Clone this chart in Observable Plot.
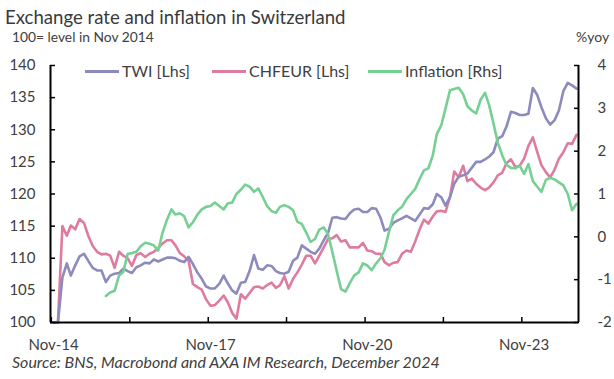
<!DOCTYPE html>
<html><head><meta charset="utf-8">
<script src="https://cdn.jsdelivr.net/npm/d3@7"></script>
<script src="https://cdn.jsdelivr.net/npm/@observablehq/plot@0.6"></script>
<style>
body{margin:0;background:#fff;}
#wrap{position:relative;width:614px;height:379px;font-family:Lato,sans-serif;color:#404040;overflow:hidden;background:#fff}
.t{position:absolute;white-space:nowrap;line-height:1}
.sw{position:absolute;height:3px}
#chart{position:absolute;left:0;top:0}
</style></head><body><div id="wrap"><div id="chart"></div></div>
<script>
// Monthly data, Nov 2014 - Nov 2024
const startMonth = [2014, 10]; // Nov 2014 (UTC month index)
const twi = [100,100,107,109.2,107.3,108.9,110.3,110.7,109.6,108.5,
108.1,108.1,106.3,107.3,107.6,107.7,108.4,108.0,107.7,108.6,
108.9,109.3,109.2,109.8,109.5,109.8,110.1,110.1,110,109.6,
109.4,110.2,109.1,107.8,106.8,105.6,105.3,105.3,106,107.3,
106.1,105,104.5,106.2,106.3,108,110.5,108.4,108.2,108.9,
108.8,108,107.7,107.6,107.9,109.6,110.1,112,111.5,111,
110.7,111.5,112.8,114,116.3,116.4,116.2,116.1,117,117.6,
117.7,117.2,117.2,117.8,117.7,116.3,114.3,114.6,115.5,115.9,
116.2,116.6,116.2,115.8,116.8,117.8,117.7,118.4,120,119.5,
118.2,119.5,121.6,122.7,122.9,123.2,124.1,125,125,125.4,
125.8,126.5,128.6,129,130.5,132.8,132.6,132.3,132.3,132.5,
136.5,135.4,133.5,131.8,130.8,131.5,133,136,137.3,136.9,136.4];
const chfeur = [100,100,115,113.5,115.1,114.5,116.1,115.5,113.5,111.9,
111,110.6,110.7,110.4,108.5,111,110.4,110,108.8,110.5,
110.8,110.2,110.7,111,111.6,112.3,112.8,112.8,112,110.8,
110.3,109.6,106,105.5,105.1,103.6,102.6,102.7,103.4,104.2,
103.2,101.5,100.6,104.4,103.7,104.6,105.5,105.6,105.3,105.8,
106.2,105.4,105.8,107.2,105.3,106.8,107.8,109,110.4,110.4,
109.2,110.4,111.7,113,113.1,113.6,112.6,112.8,111.7,111.7,
111.7,112.4,111.2,111.1,110.7,110.7,109.4,108.9,109.3,109.4,
110.7,111.2,111,112.6,114.5,116,115.4,116.5,117.3,117.4,
117.2,119.5,123.5,122.6,124.4,122,122.4,121.6,121,120.6,
121,121.8,122.9,123.3,124.8,125.4,124.2,124.4,125.5,127.5,
128.8,126.5,124.5,123.4,122.6,123.8,125.5,126.5,127.9,127.8,129.2];
// Inflation % yoy, from Nov 2015
const inflationStart = 12;
const inflation = [-1.38,-1.3,-1.26,-0.9,-0.82,-0.4,-0.38,-0.35,-0.22,-0.14,
-0.16,-0.2,-0.32,0.1,0.4,0.64,0.52,0.55,0.48,0.22,
0.34,0.52,0.64,0.7,0.72,0.8,0.72,0.64,0.78,0.8,
1.0,1.1,1.22,1.17,1.05,1.13,0.93,0.72,0.6,0.56,
0.7,0.74,0.7,0.62,0.35,0.3,0.1,-0.12,-0.05,0.17,
0.22,0.05,-0.35,-0.8,-1.22,-1.28,-1.08,-0.9,-0.83,-0.62,
-0.67,-0.78,-0.62,-0.5,-0.3,0.12,0.5,0.62,0.7,0.88,
1.0,1.12,1.35,1.55,1.6,1.9,2.4,2.6,3.0,3.42,
3.45,3.48,3.33,3.05,2.95,2.88,3.2,3.36,3.08,2.65,
2.2,1.9,1.68,1.61,1.6,1.66,1.47,1.7,1.3,1.17,
1.05,1.33,1.38,1.34,1.27,1.2,1.0,0.62,0.77];

const leftTicks = [100,105,110,115,120,125,130,135,140];
const rightTicks = [-2,-1,0,1,2,3,4];
const xLabels = ["Nov-14","Nov-17","Nov-20","Nov-23"];
const colors = {twi:"#8d8bbd", chfeur:"#de7b9f", infl:"#76cf93"};

const monthDate = i => new Date(Date.UTC(startMonth[0], startMonth[1] + i, 1));
const dTwi = twi.map((v,i)=>({date:monthDate(i), v}));
const dChf = chfeur.map((v,i)=>({date:monthDate(i), v}));
const dInf = inflation.map((v,i)=>({date:monthDate(i+inflationStart), v}));
// right axis (-2..4) mapped onto left scale (100..140)
const toLeft = r => 100 + (r + 2) * 40 / 6;

const x0 = new Date(Date.UTC(2014,9,10)), x1 = new Date(Date.UTC(2024,10,15));
const xTickDates = [[2014,9],[2016,3],[2017,9],[2019,3],[2020,9],[2022,3],[2023,9]].map(([y,m])=>new Date(Date.UTC(y,m,16)));
const xLabelDates = [[2014,10],[2017,10],[2020,10],[2023,10]].map(([y,m])=>new Date(Date.UTC(y,m,1)));

const plot = Plot.plot({
  width:614, height:379,
  marginLeft:50, marginRight:36, marginTop:65, marginBottom:57,
  style:{fontFamily:"Lato, sans-serif", fontSize:"15px", color:"#404040", background:"#fff"},
  x:{type:"utc", domain:[x0,x1]},
  y:{domain:[100,140]},
  marks:[
    Plot.line(dChf,{x:"date",y:"v",stroke:colors.chfeur,strokeWidth:2.6,strokeLinejoin:"round"}),
    Plot.line(dTwi,{x:"date",y:"v",stroke:colors.twi,strokeWidth:2.6,strokeLinejoin:"round"}),
    Plot.line(dInf,{x:"date",y:d=>toLeft(d.v),stroke:colors.infl,strokeWidth:2.6,strokeLinejoin:"round"}),
    Plot.ruleX([x0],{stroke:"#000",strokeWidth:2}),
    Plot.ruleX([x1],{stroke:"#000",strokeWidth:2}),
    Plot.ruleY([100],{stroke:"#000",strokeWidth:2}),
    Plot.axisY({anchor:"left",ticks:leftTicks,tickSize:-5,tickFormat:()=>"",label:null,stroke:"#000",strokeWidth:1.5}),
    Plot.axisY({anchor:"left",ticks:leftTicks,tickSize:0,tickPadding:15,label:null,fill:"#404040"}),
    Plot.axisY({anchor:"right",ticks:rightTicks.map(toLeft),tickSize:-5,tickFormat:()=>"",label:null,stroke:"#000",strokeWidth:1.5}),
    Plot.axisY({anchor:"right",ticks:rightTicks.map(toLeft),tickSize:0,tickPadding:19,label:null,fill:"#404040",
      tickFormat:v=>String(rightTicks[rightTicks.map(toLeft).findIndex(t=>Math.abs(t-v)<1e-6)])}),
    Plot.axisX({anchor:"bottom",ticks:xTickDates,tickSize:-5,tickFormat:()=>"",label:null,stroke:"#000",strokeWidth:1.5}),
    Plot.axisX({anchor:"bottom",ticks:xLabelDates,tickSize:0,tickPadding:17,label:null,fill:"#404040",
      tickFormat:d=>xLabels[xLabelDates.findIndex(t=>+t===+d)]})
  ]
});
document.getElementById("chart").appendChild(plot);

const wrap = document.getElementById("wrap");
function addText(txt, left, top, size, extra){
  const el = document.createElement("div");
  el.className = "t"; el.textContent = txt;
  el.style.left = left+"px"; el.style.top = top+"px"; el.style.fontSize = size+"px";
  if (extra) Object.assign(el.style, extra);
  wrap.appendChild(el); return el;
}
addText("Exchange rate and inflation in Switzerland", 5, 8, 18.6, {color:"#3a3a3a"});
addText("100= level in Nov 2014", 12, 30, 13.8);
addText("%yoy", 576, 30, 14);
addText("Source: BNS, Macrobond and AXA IM Research, December 2024", 12, 354, 16, {fontStyle:"italic"});
const legend = [["TWI [Lhs]",colors.twi,85,122],["CHFEUR [Lhs]",colors.chfeur,212,249],["Inflation [Rhs]",colors.infl,368,405]];
legend.forEach(([label,col,sx,tx])=>{
  const s = document.createElement("div"); s.className="sw";
  s.style.left=sx+"px"; s.style.top="70px"; s.style.width=(tx-sx-3)+"px"; s.style.background=col;
  wrap.appendChild(s);
  addText(label, tx, 63, 16);
});
</script></body></html>
